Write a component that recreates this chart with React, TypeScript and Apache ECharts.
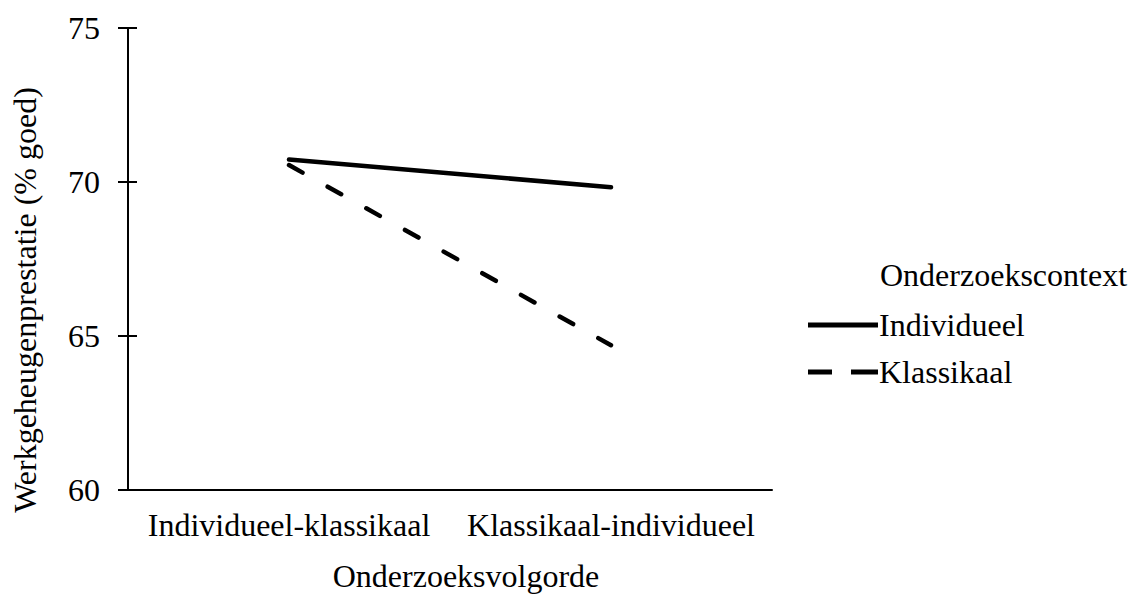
import React, { useEffect, useRef } from "react";
import * as echarts from "echarts";

const categories = ["Individueel-klassikaal", "Klassikaal-individueel"];
const individueel = [70.73, 69.83];
const klassikaal = [70.55, 64.7];
const yTicks = [60, 65, 70, 75];
const seriesNames = ["Individueel", "Klassikaal"];
const xTitle = "Onderzoeksvolgorde";
const yTitle = "Werkgeheugenprestatie (% goed)";
const legendTitle = "Onderzoekscontext";

const FONT = "Liberation Serif";
const FS = 32;

export default function App() {
  const ref = useRef<HTMLDivElement>(null);
  useEffect(() => {
    if (!ref.current) return;
    const chart = echarts.init(ref.current, null, { renderer: "svg" });
    const yMin = yTicks[0];
    const yMax = yTicks[yTicks.length - 1];
    chart.setOption({
      animation: false,
      backgroundColor: "#fff",
      textStyle: { fontFamily: FONT, color: "#000" },
      title: {
        text: legendTitle,
        left: 880,
        top: 259,
        padding: 0,
        textStyle: { fontFamily: FONT, fontSize: FS, fontWeight: "normal", color: "#000" },
      },
      legend: {
        data: [
          { name: seriesNames[0], icon: "path://M0,0H70V5H0Z" },
          { name: seriesNames[1], icon: "path://M0,0H24V5H0Z M43,0H70V5H43Z" },
        ],
        orient: "vertical",
        left: 808,
        top: 309,
        padding: 0,
        itemWidth: 70,
        itemHeight: 5,
        itemGap: 15,
        itemStyle: { color: "#000", borderWidth: 0 },
        textStyle: { fontFamily: FONT, fontSize: FS, color: "#000", padding: [0, 0, 0, -4] },
      },
      grid: { left: 128, right: 363, top: 28, bottom: 102, containLabel: false },
      xAxis: {
        type: "category",
        data: categories,
        boundaryGap: true,
        axisLine: { lineStyle: { color: "#000", width: 2 } },
        axisTick: { show: false },
        axisLabel: { color: "#000", fontFamily: FONT, fontSize: FS, margin: 19, interval: 0, hideOverlap: false },
        name: xTitle,
        nameLocation: "middle",
        nameGap: 70,
        nameTextStyle: { color: "#000", fontFamily: FONT, fontSize: FS, padding: [0, 0, 0, 32] },
      },
      yAxis: [
        {
          type: "value",
          min: yMin,
          max: yMax,
          interval: 5,
          axisLine: { show: true, lineStyle: { color: "#000", width: 2 } },
          axisTick: { show: true, length: 10, lineStyle: { color: "#000", width: 2 } },
          axisLabel: { color: "#000", fontFamily: FONT, fontSize: FS, margin: 28 },
          splitLine: { show: false },
          name: yTitle,
          nameLocation: "middle",
          nameGap: 87,
          nameRotate: 90,
          nameTextStyle: { color: "#000", fontFamily: FONT, fontSize: FS, padding: [0, 82, 0, 0] },
        },
        {
          type: "value",
          position: "left",
          min: yMin,
          max: yMax,
          interval: 5,
          axisLine: { show: false },
          axisTick: { show: true, inside: true, length: 9, lineStyle: { color: "#000", width: 2 } },
          axisLabel: { show: false },
          splitLine: { show: false },
        },
      ],
      series: [
        {
          name: seriesNames[0],
          type: "line",
          data: individueel,
          symbol: "none",
          lineStyle: { color: "#000", width: 4.5, cap: "round" },
          itemStyle: { color: "#000" },
        },
        {
          name: seriesNames[1],
          type: "line",
          data: klassikaal,
          symbol: "none",
          lineStyle: { color: "#000", width: 4.5, type: [15.5, 28.8], cap: "round" },
          itemStyle: { color: "#000" },
        },
      ],
    });
    return () => chart.dispose();
  }, []);
  return <div ref={ref} style={{ width: 1135, height: 597, position: "absolute", left: 0, top: 0 }} />;
}
